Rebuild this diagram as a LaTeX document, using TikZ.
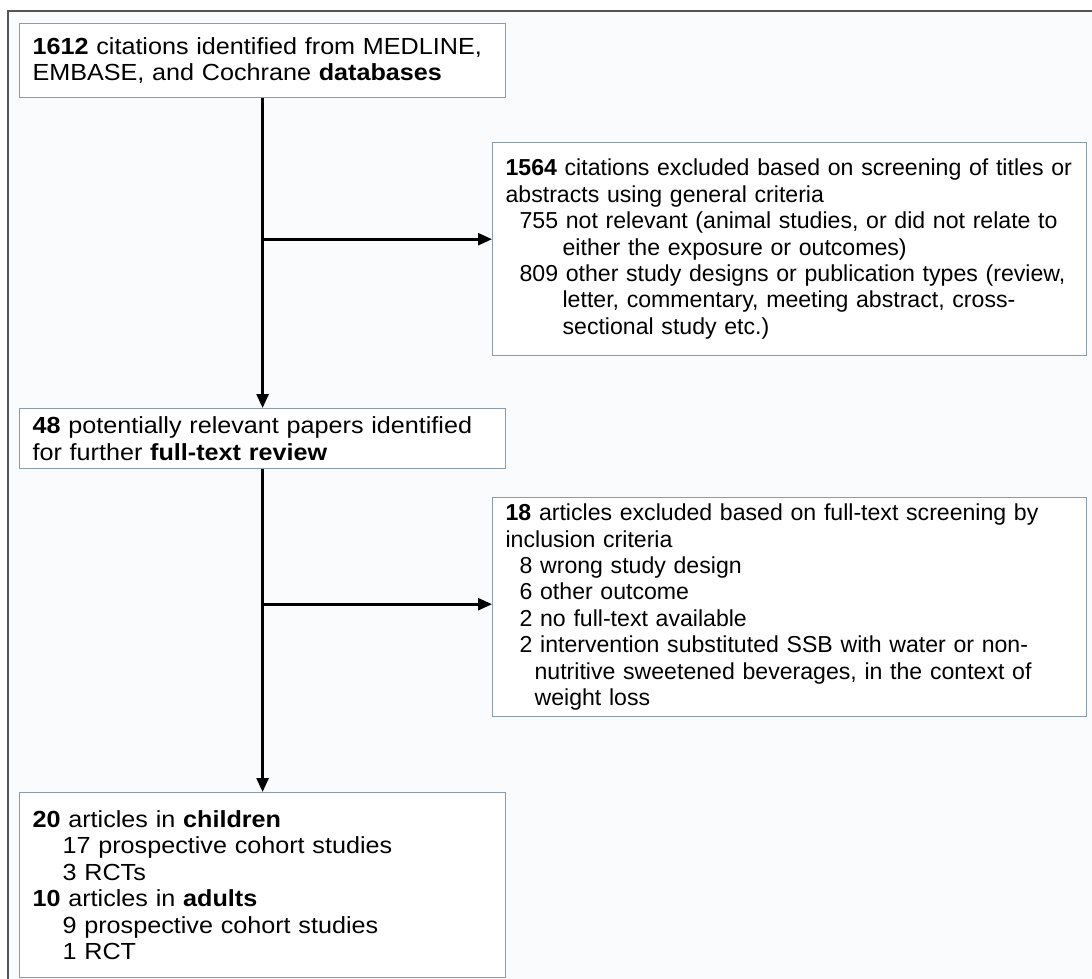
\documentclass[tikz,border=0pt]{standalone}
\usepackage{fontspec}
\setmainfont{Liberation Sans}
\newfontfamily\widesans{Liberation Sans}[FakeStretch=1.08]
\usetikzlibrary{arrows.meta,positioning}
\definecolor{framebg}{RGB}{250,251,253}
\definecolor{boxline}{RGB}{140,155,168}
\definecolor{frameline}{RGB}{85,85,85}
\tikzset{
  flowbox/.style={rectangle,draw=boxline,line width=1.2pt,fill=white,align=left,
    inner xsep=13pt,inner ysep=0pt},
  leftbox/.style={flowbox,text width=460pt,font=\widesans\fontsize{23.3}{26.4}\selectfont},
  rightbox/.style={flowbox,text width=568pt,font=\fontsize{23.1}{26.4}\selectfont},
  flowarrow/.style={line width=2.6pt,-{Triangle[length=14pt,width=12pt]}},
}
\begin{document}
\begin{tikzpicture}[x=1pt,y=-1pt]
	\useasboundingbox (0,0) rectangle (1092,979);
	\draw[frameline,line width=1.5pt,fill=framebg] (8,11) rectangle (1110,1000);
	\node[leftbox,minimum height=74pt,anchor=north west](ident) at (19,23)
		{\textbf{1612} citations identified from MEDLINE,\\EMBASE, and Cochrane \textbf{databases}};
	\node[rightbox,minimum height=213pt,anchor=north west](excl1) at (492,142)
		{\textbf{1564} citations excluded based on screening of titles or\\
		abstracts using general criteria\\
		\hspace*{14pt}755 not relevant (animal studies, or did not relate to\\
		\hspace*{57pt}either the exposure or outcomes)\\
		\hspace*{14pt}809 other study designs or publication types (review,\\
		\hspace*{57pt}letter, commentary, meeting abstract, cross-\\
		\hspace*{57pt}sectional study etc.)};
	\node[leftbox,minimum height=60pt,anchor=north west](review) at (19,408)
		{\textbf{48} potentially relevant papers identified\\for further \textbf{full-text review}};
	\node[rightbox,minimum height=219pt,anchor=north west](excl2) at (492,497)
		{\textbf{18} articles excluded based on full-text screening by\\
		inclusion criteria\\
		\hspace*{14pt}8 wrong study design\\
		\hspace*{14pt}6 other outcome\\
		\hspace*{14pt}2 no full-text available\\
		\hspace*{14pt}2 intervention substituted SSB with water or non-\\
		\hspace*{29pt}nutritive sweetened beverages, in the context of\\
		\hspace*{29pt}weight loss};
	\node[leftbox,minimum height=185pt,anchor=north west](incl) at (19,792)
		{\textbf{20} articles in \textbf{children}\\
		\hspace*{30pt}17 prospective cohort studies\\
		\hspace*{30pt}3 RCTs\\
		\textbf{10} articles in \textbf{adults}\\
		\hspace*{30pt}9 prospective cohort studies\\
		\hspace*{30pt}1 RCT};
	% branch points on the trunk
	\coordinate (split1) at ([yshift=-141pt]ident.south);
	\coordinate (split2) at ([yshift=-135pt]review.south);
	\draw[flowarrow] (ident.south) -- (review.north);
	\draw[flowarrow] (review.south) -- (incl.north);
	\draw[flowarrow] (split1) -- (split1 -| excl1.west);
	\draw[flowarrow] (split2) -- (split2 -| excl2.west);
\end{tikzpicture}
\end{document}
